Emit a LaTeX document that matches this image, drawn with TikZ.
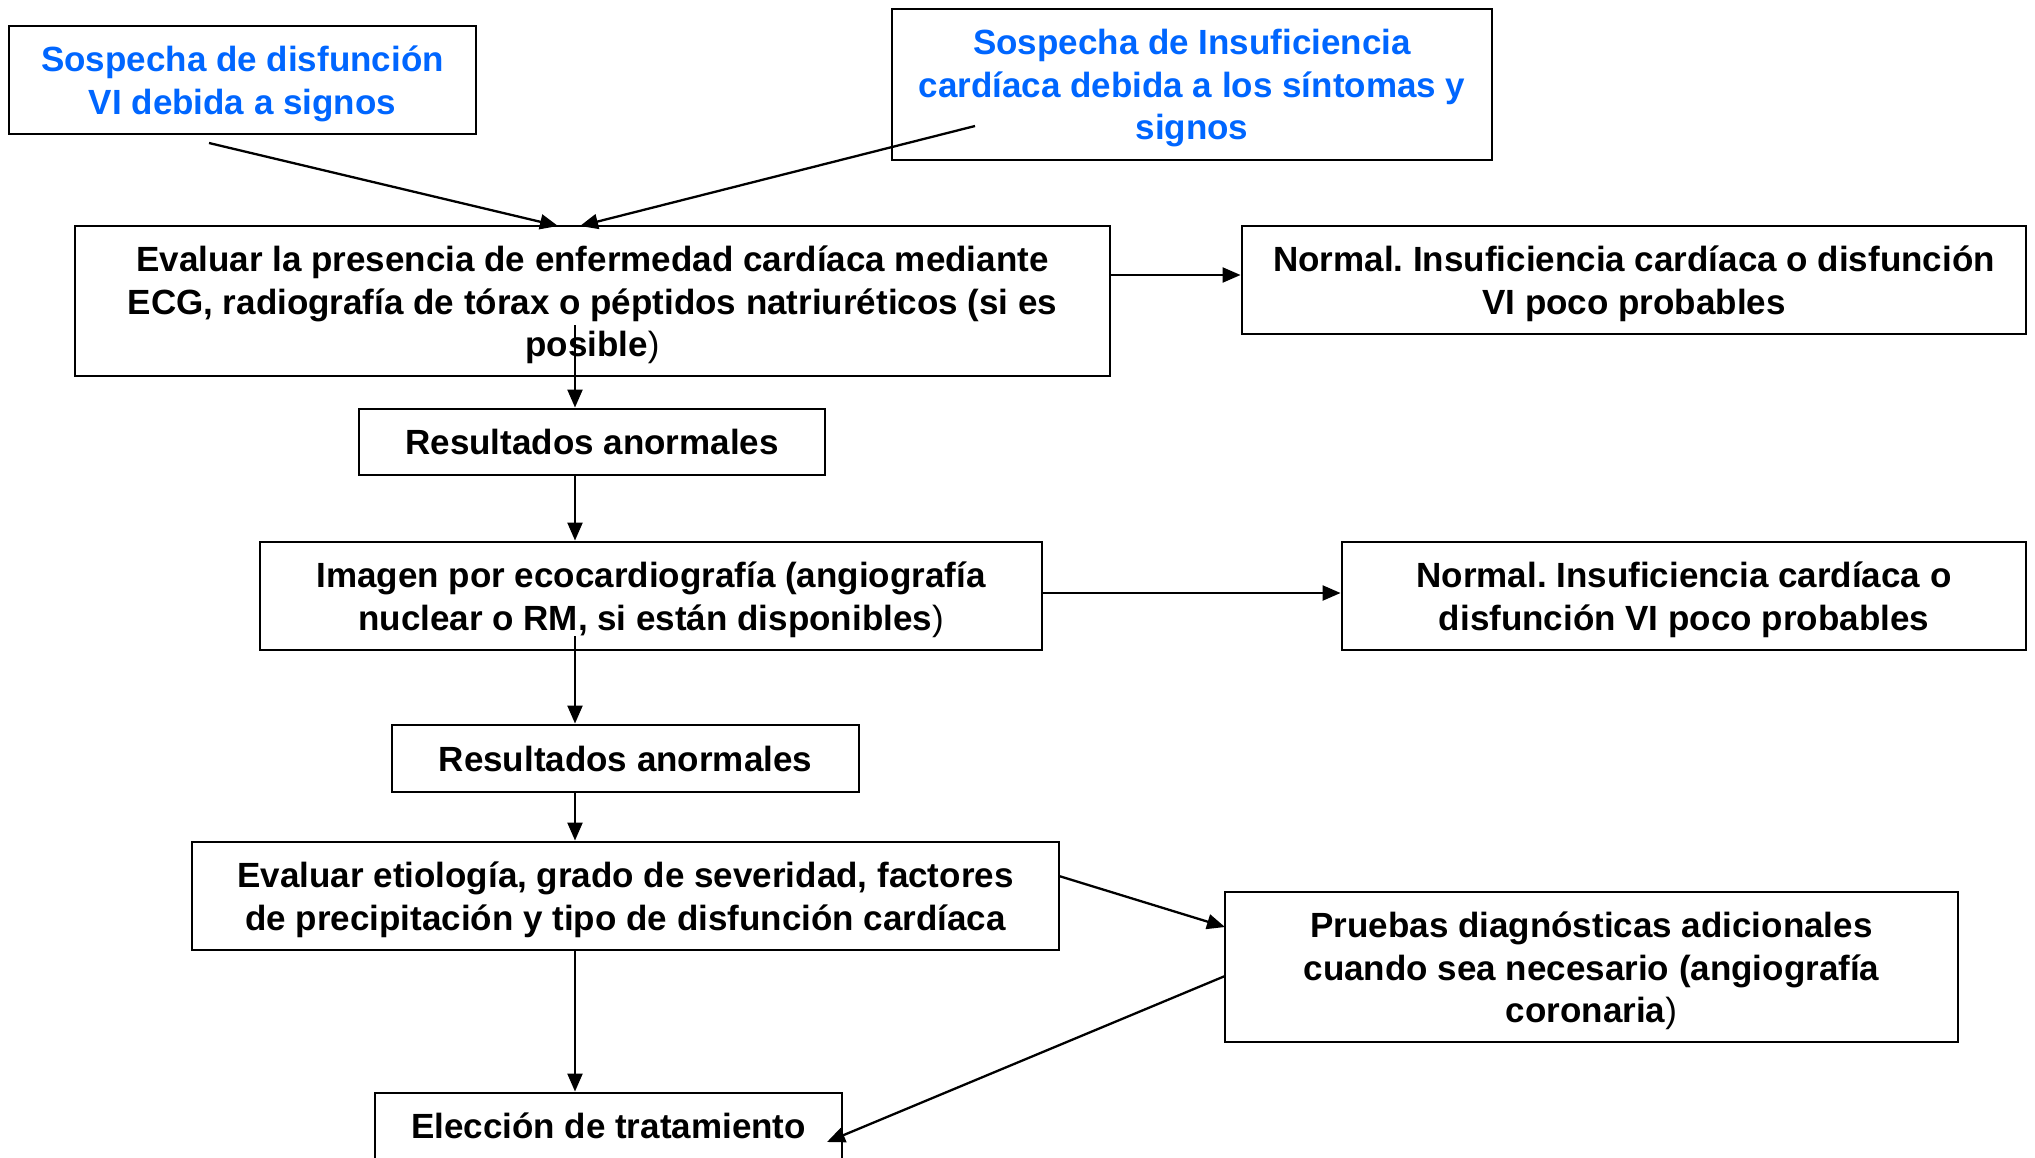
\documentclass[tikz,border=0pt]{standalone}
\usepackage{fontspec}
\setmainfont{Liberation Sans}
\usetikzlibrary{arrows.meta,calc}
\definecolor{qblue}{RGB}{0,102,255}
\frenchspacing
\newcommand{\thinparen}{{\mdseries)}}
\begin{document}
\begin{tikzpicture}[x=1pt,y=-1pt,
  txt/.style={inner sep=0pt, align=center,
    font=\fontsize{35}{42.5}\selectfont\bfseries\frenchspacing, text=black},
  box/.style={draw, line width=2.9pt, txt},
  bluetext/.style={text=qblue},
  arr/.style={line width=2.3pt, -{Triangle[length=18pt,width=15pt]}}]
\useasboundingbox (0,0) rectangle (2035,1157);
% boxes
\node[box, minimum width=467pt, minimum height=108pt] (A) at (242.5,80) {};
\node[box, minimum width=600pt, minimum height=151pt] (B) at (1192,84.5) {};
\node[box, minimum width=1035pt, minimum height=150pt] (C) at (592.5,301) {};
\node[box, minimum width=784pt, minimum height=108pt] (D) at (1634,280) {};
\node[box, minimum width=466pt, minimum height=66pt] (E) at (592,442)
  {Resultados anormales};
\node[box, minimum width=782pt, minimum height=108pt] (F) at (651,596) {};
\node[box, minimum width=684pt, minimum height=108pt] (G) at (1684,596) {};
\node[box, minimum width=467pt, minimum height=67pt] (H) at (625.5,758.5)
  {Resultados anormales};
\node[box, minimum width=867pt, minimum height=108pt] (I) at (625.5,896) {};
\node[box, minimum width=733pt, minimum height=150pt] (J) at (1591.5,967) {};
\node[box, minimum width=467pt, minimum height=66pt] (K) at (608.5,1126)
  {Elección de tratamiento};
% multi-line texts
\node[txt, bluetext] (At) at ($(A.center)+(0,4)$)
  {Sospecha de disfunción\\VI debida a signos};
\node[txt, bluetext] (Bt) at ($(B.center)+(0,4)$)
  {Sospecha de Insuficiencia\\cardíaca debida a los síntomas y\\signos};
\node[txt] (Ct) at ($(C.center)+(0,4)$)
  {Evaluar la presencia de enfermedad cardíaca mediante\\ECG, radiografía de tórax o péptidos natriuréticos (si es\\posible\thinparen};
\node[txt] (Dt) at ($(D.center)+(0,4)$)
  {Normal. Insuficiencia cardíaca o disfunción\\VI poco probables};
\node[txt] (Ft) at ($(F.center)+(0,4)$)
  {Imagen por ecocardiografía (angiografía\\nuclear o RM, si están disponibles\thinparen};
\node[txt] (Gt) at ($(G.center)+(0,4)$)
  {Normal. Insuficiencia cardíaca o\\disfunción VI poco probables};
\node[txt] (It) at ($(I.center)+(0,4)$)
  {Evaluar etiología, grado de severidad, factores\\de precipitación y tipo de disfunción cardíaca};
\node[txt] (Jt) at ($(J.center)+(0,4)$)
  {Pruebas diagnósticas adicionales\\cuando sea necesario (angiografía\\coronaria\thinparen};
% helper coordinates
\coordinate (spine) at (575,0);
\coordinate (a1s) at (209,143);
\coordinate (a1e) at (558,226);
\coordinate (a2s) at (975,126);
\coordinate (a2e) at (580,226);
\coordinate (ce) at (575,325);
\coordinate (fh) at (575,636);
\coordinate (ij1) at (1059,876);
\coordinate (ij2) at (1225,927);
\coordinate (jk1) at (1225,976);
\coordinate (jk2) at (827,1142);
% connectors
\draw[arr] (a1s) -- (a1e);
\draw[arr] (a2s) -- (a2e);
\draw[arr] (ce) -- (E.north -| spine);
\draw[arr] (C.east |- 0,275) -- (D.west |- 0,275);
\draw[arr] (E.south -| spine) -- (F.north -| spine);
\draw[arr] (F.east |- 0,593) -- (G.west |- 0,593);
\draw[arr] (fh) -- (H.north -| spine);
\draw[arr] (H.south -| spine) -- (I.north -| spine);
\draw[arr] (ij1) -- (ij2);
\draw[arr] (I.south -| spine) -- (K.north -| spine);
\draw[arr] (jk1) -- (jk2);
\end{tikzpicture}
\end{document}
